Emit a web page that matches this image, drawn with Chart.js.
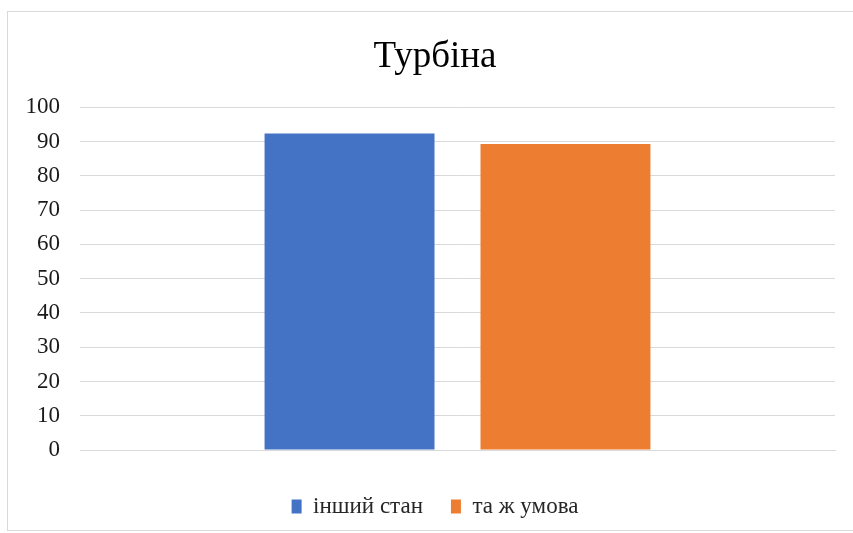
<!DOCTYPE html>
<html>
<head>
<meta charset="utf-8">
<script src="https://cdn.jsdelivr.net/npm/chart.js@4.4.1/dist/chart.umd.min.js"></script>
<style>
  html, body { margin: 0; padding: 0; background: #fff; }
  body { width: 853px; height: 533px; position: relative; overflow: hidden; }
  #frame {
    position: absolute; left: 7px; top: 11px; width: 880px; height: 520px;
    border: 1px solid #d9d9d9; box-sizing: border-box;
  }
  #wrap { position: absolute; left: 8px; top: 12px; width: 854px; height: 516px; }
</style>
</head>
<body>
<div id="frame"></div>
<div id="wrap"><canvas id="turbineChart"></canvas></div>
<script>
const chartTitle = 'Турбіна';
const categories = [''];
const seriesNames = ['інший стан', 'та ж умова'];
const otherState = [92.4];
const sameCondition = [89.3];
const yTicks = [0, 10, 20, 30, 40, 50, 60, 70, 80, 90, 100];

const serif = '"Liberation Serif", "Times New Roman", serif';

const ctx = document.getElementById('turbineChart');
new Chart(ctx, {
    type: 'bar',
    data: {
        labels: categories,
        datasets: [{
            label: seriesNames[0],
            data: otherState,
            backgroundColor: '#4472C4'
        }, {
            label: seriesNames[1],
            data: sameCondition,
            backgroundColor: '#ED7D31'
        }]
    },
    options: {
        responsive: true,
        maintainAspectRatio: false,
        animation: false,
        categoryPercentage: 0.572,
        barPercentage: 0.787,
        layout: {
            padding: { top: 18, right: 0, bottom: 0, left: 0 }
        },
        plugins: {
            title: {
                display: true,
                text: chartTitle,
                color: '#000',
                font: { family: serif, size: 37, weight: 'normal' },
                padding: { top: 5, bottom: 28 }
            },
            legend: {
                display: true,
                position: 'bottom',
                labels: {
                    color: '#262626',
                    font: { family: serif, size: 23 },
                    boxWidth: 10,
                    boxHeight: 14,
                    padding: 28
                }
            },
            tooltip: { enabled: false }
        },
        scales: {
            x: {
                ticks: { display: false },
                grid: { display: false },
                border: { color: '#d9d9d9' },
                afterFit: (scale) => {
                    scale.height = 17;
                }
            },
            y: {
                min: 0,
                max: 100,
                afterBuildTicks: (scale) => {
                    scale.ticks = yTicks.map(v => ({ value: v }));
                },
                afterFit: (scale) => {
                    scale.width = 72;
                },
                ticks: {
                    color: '#1a1a1a',
                    padding: 20,
                    font: { family: serif, size: 23 }
                },
                grid: { color: '#d9d9d9', drawTicks: false },
                border: { display: false }
            },
            // empty right-hand spacer so the plot ends where it does in the picture
            // while the title and legend stay centred on the whole chart
            spacer: {
                type: 'linear',
                position: 'right',
                min: 0,
                max: 100,
                ticks: { display: false },
                grid: { display: false },
                border: { display: false },
                afterFit: (scale) => {
                    scale.width = 27;
                }
            }
        }
    }
});
</script>
</body>
</html>
